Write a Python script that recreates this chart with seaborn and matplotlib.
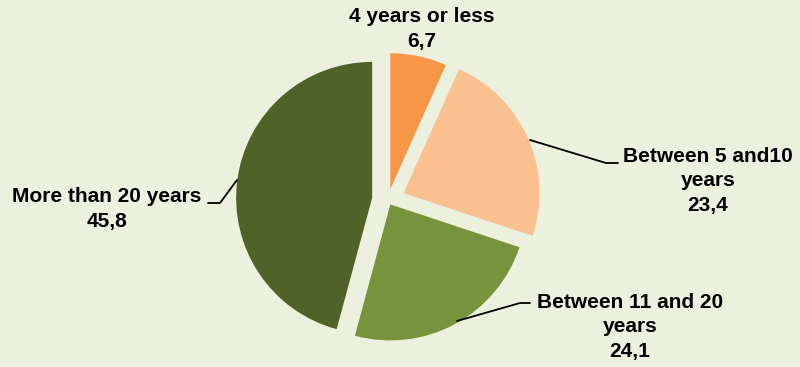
import numpy as np
import matplotlib
matplotlib.use("Agg")
import matplotlib.pyplot as plt
import seaborn as sns

# data
categories = ["4 years or less", "Between 5 and10\nyears", "Between 11 and 20\nyears", "More than 20 years"]
shares = [6.7, 23.4, 24.1, 45.8]
value_labels = ["6,7", "23,4", "24,1", "45,8"]

colors = sns.color_palette(["#F79646", "#FAC090", "#77933C", "#4F6228"])
bg = "#EBF1DE"

sns.set_style("white")
plt.rcParams["font.family"] = ["Liberation Sans", "DejaVu Sans"]

W, H = 800, 367
fig = plt.figure(figsize=(W / 100, H / 100), dpi=100, facecolor=bg)
ax = fig.add_axes([0, 0, 1, 1])
ax.set_facecolor(bg)

# pie in pixel coordinates (y flipped so 0 is at bottom)
cx, cy, r = 388, H - 200, 136
ax.pie(shares, colors=colors, startangle=90, counterclock=False,
       center=(cx, cy), radius=r, explode=[11, 17, 5, 16],
       wedgeprops=dict(linewidth=0))
ax.set_xlim(0, W)
ax.set_ylim(0, H)
ax.set_aspect("equal")
ax.axis("off")

# labels: (x center, y of first line in pixel coords)
label_pos = [(422, 17), (708, 156), (630, 302), (107, 196)]
for cat, val, (x, y) in zip(categories, value_labels, label_pos):
    lines = cat.split("\n") + [val]
    for i, ln in enumerate(lines):
        ax.text(x, H - (y + 25 * i), ln, ha="center", va="center",
                fontsize=15, fontweight="bold", color="black")

# leader lines
leaders = [
    [(530, 140), (606, 163), (618, 163)],
    [(457, 321), (520, 303), (530, 303)],
    [(237, 180), (220, 203), (208, 203)],
]
for pts in leaders:
    xs = [p[0] for p in pts]
    ys = [H - p[1] for p in pts]
    ax.plot(xs, ys, color="black", linewidth=1.3)

fig.savefig("out.png", dpi=100, facecolor=bg)
